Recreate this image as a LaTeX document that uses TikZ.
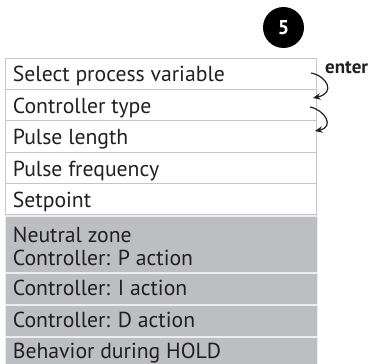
\documentclass[tikz,border=0pt]{standalone}
\usepackage{fontspec}
\setmainfont{PT Sans}
\usetikzlibrary{arrows.meta}
\definecolor{txt}{HTML}{231F20}
\definecolor{rowgray}{HTML}{BDBEC1}
\definecolor{linegray}{HTML}{C6C6C6}
\definecolor{sepgray}{HTML}{ECECEC}
\begin{document}
\begin{tikzpicture}[x=1pt,y=-1pt,
  whiterow/.style={draw=linegray, line width=1.3pt, fill=white, minimum width=311pt, inner sep=0pt, anchor=north west},
  grayrow/.style={fill=rowgray, draw=sepgray, line width=1.8pt, minimum width=312pt, inner sep=0pt, anchor=north west},
  lbl/.style={anchor=base west, inner sep=0pt, text=txt, font=\fontsize{21.7}{26}\selectfont},
  enterarrow/.style={draw=txt, line width=1.2pt, -{Stealth[length=7.5pt,width=6.5pt]}},
]
\useasboundingbox (0,0) rectangle (370,364);
% circle with number
\node[circle, fill=black, minimum size=41pt, inner sep=0pt, text=white, font=\fontsize{20}{22}\selectfont\bfseries] (num) at (283.5,27.5) {5};
% white rows
\node[whiterow, minimum height=31pt] (r1) at (4.8,58) {};
\node[whiterow, minimum height=31pt] (r2) at (4.8,89) {};
\node[whiterow, minimum height=32pt] (r3) at (4.8,120) {};
\node[whiterow, minimum height=31pt] (r4) at (4.8,152) {};
\node[whiterow, minimum height=31pt] (r5) at (4.8,183) {};
% gray rows
\node[grayrow, minimum height=57pt] (g1) at (4.5,215) {};
\node[grayrow, minimum height=32pt] (g2) at (4.5,272) {};
\node[grayrow, minimum height=32pt] (g3) at (4.5,304) {};
\node[grayrow, minimum height=32pt] (g4) at (4.5,336) {};
% labels
\node[lbl] (t1) at (12.7,81.7) {Select process variable};
\node[lbl] (t2) at (12.7,113.2) {Controller type};
\node[lbl] (t3) at (12.7,144.5) {Pulse length};
\node[lbl] (t4) at (12.7,176) {Pulse frequency};
\node[lbl] (t5) at (12.7,207) {Setpoint};
\node[lbl] (t6) at (12.7,242.3) {Neutral zone};
\node[lbl] (t7) at (12.7,265.5) {Controller: P action};
\node[lbl] (t8) at (12.7,295.5) {Controller: I action};
\node[lbl] (t9) at (12.7,327) {Controller: D action};
\node[lbl] (t10) at (12.7,358.5) {Behavior during HOLD};
% enter label and arrows
\node[anchor=base west, inner sep=0pt, text=txt, font=\fontsize{19}{22}\selectfont\bfseries] (enter) at (325,74) {enter};
\coordinate (a1s) at (311,73);
\coordinate (a1e) at (313,98);
\coordinate (a2s) at (310,107);
\coordinate (a2e) at (315,131);
\draw[enterarrow] (a1s) .. controls (327,76) and (336,93) .. (a1e);
\draw[enterarrow] (a2s) .. controls (325,110) and (335,127) .. (a2e);
\end{tikzpicture}
\end{document}
